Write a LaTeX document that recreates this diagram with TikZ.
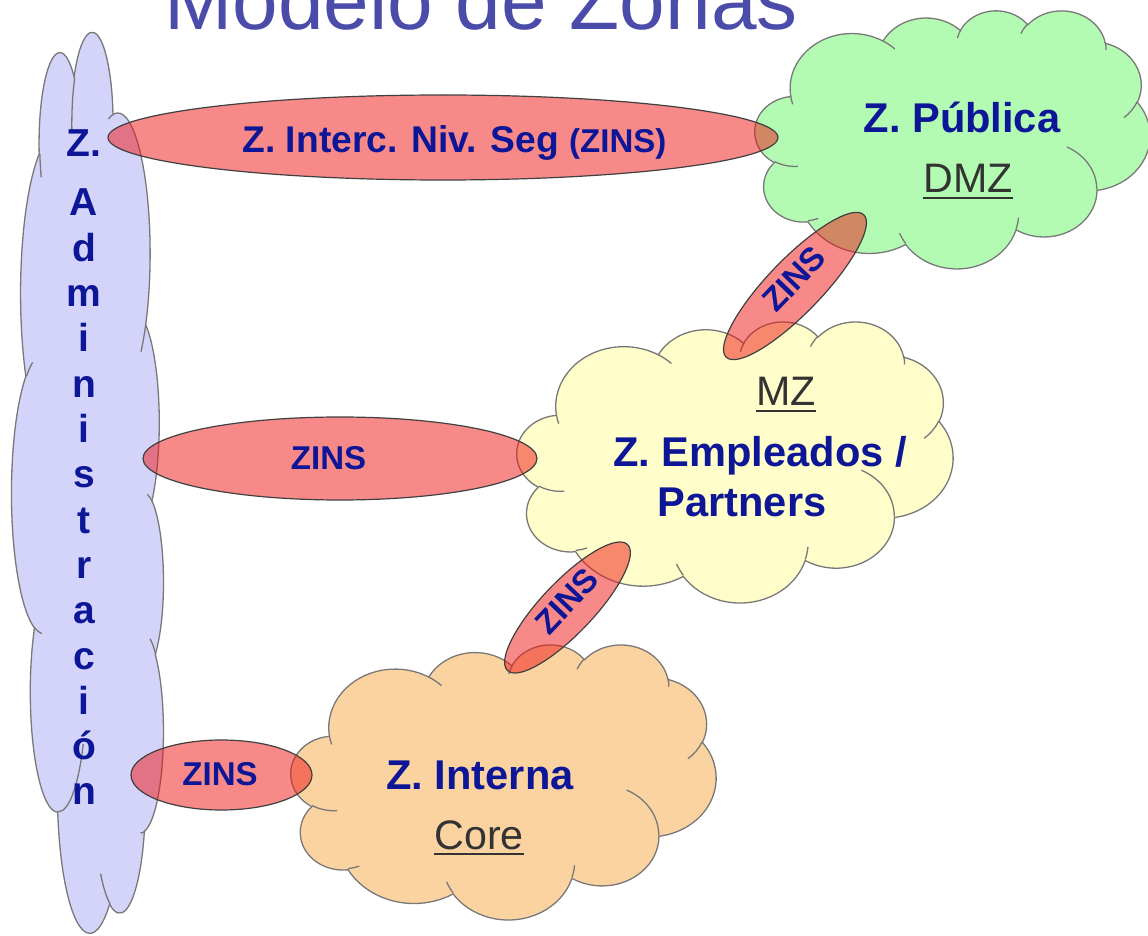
\documentclass[tikz,border=0pt]{standalone}
\usepackage{fontspec}
\setmainfont{Liberation Sans}
\usetikzlibrary{shapes.geometric}
\definecolor{zblue}{RGB}{12,22,150}
\definecolor{tblue}{RGB}{75,75,170}
\definecolor{zgray}{RGB}{51,51,51}
\definecolor{cline}{RGB}{120,120,120}
\definecolor{zred}{RGB}{240,20,20}
\definecolor{lav}{RGB}{212,212,250}
\definecolor{zgreen}{RGB}{179,251,179}
\definecolor{zyellow}{RGB}{255,253,201}
\definecolor{zorange}{RGB}{251,211,161}
\newcommand\fz[1]{\fontsize{#1}{#1}\selectfont}
% --- cloud outline (preset cloud geometry, path box 432 x 432) ---
\gdef\cpath{}
\newcommand\addmove[2]{\xdef\cpath{\cpath (#1,#2)}}
\newcommand\addarc[4]{%
  \pgfmathsetmacro\tmpS{atan2((#1)*sin(#3),(#2)*cos(#3))}%
  \pgfmathsetmacro\tmpE{atan2((#1)*sin((#3)+(#4)),(#2)*cos((#3)+(#4)))}%
  \pgfmathsetmacro\tmpD{mod(\tmpE-\tmpS+720,360)}%
  \xdef\cpath{\cpath arc[x radius=#1, y radius=#2, start angle=\tmpS, delta angle=\tmpD]}}
\addmove{39}{143.7}
\addarc{67.53}{91.90}{-190.48748}{123.78053}
\addarc{53.33}{72.67}{-144.10238}{89.94523}
\addarc{43.65}{59.45}{-145.80792}{99.72302}
\addarc{48.57}{65.95}{-130.98607}{117.24173}
\addarc{53.33}{72.73}{-78.70888}{109.02692}
\addarc{67.75}{92.20}{-46.26725}{130.269}
\addarc{57.85}{78.67}{0.62502}{114.03333}
\addarc{67.52}{92.15}{22.4516}{115.17255}
\addarc{77.20}{105.43}{66.24263}{75.71102}
\addarc{43.60}{59.18}{-274.94208}{146.73557}
\addarc{43.45}{59.45}{-246.8285}{152.51885}
\xdef\cpath{\cpath -- cycle}
\global\let\cloudmain\cpath
\gdef\cpath{}
\addmove{46.93}{261.77}\addarc{43.45}{59.45}{86.742}{26.4295}
\addmove{69.28}{348.99}\addarc{43.60}{59.18}{73.61047}{11.44747}
\addmove{164.78}{390.90}\addarc{67.52}{92.15}{137.62415}{14.0811}
\addmove{288.27}{347.51}\addarc{67.52}{92.15}{6.45327}{15.99835}
\addmove{341.29}{229.54}\addarc{57.85}{78.67}{-70.29235}{70.91737}
\addmove{417.98}{153.54}\addarc{53.33}{72.73}{30.31803}{27.7515}
\addmove{383.24}{54.26}\addarc{48.57}{65.95}{-13.74433}{14.8589}
\addmove{290.78}{39.52}\addarc{48.57}{65.95}{-149.18145}{18.19537}
\addmove{221.41}{47.20}\addarc{43.65}{59.45}{-163.49427}{17.68635}
\addmove{140.00}{51.92}\addarc{67.53}{91.90}{-66.70695}{12.31935}
\addmove{41.27}{157.89}\addarc{67.53}{91.90}{157.65435}{11.85817}
\global\let\cloudinner\cpath
\newcommand\zcloud[2]{%
  \begin{scope}[#1]
    \path[draw=cline, line width=0.65pt, fill=#2] \cloudmain;
    \path[draw=cline, line width=0.65pt] \cloudinner;
  \end{scope}}
\tikzset{
  zins/.style={ellipse, draw=black!75, line width=0.6pt, fill=zred,
    fill opacity=0.5, inner sep=0pt},
  txtb/.style={text=zblue, font=\bfseries\fz{20.8}, inner sep=0pt},
  txtu/.style={text=zgray, font=\fz{20.6}, inner sep=0pt},
  txtz/.style={text=zblue, font=\bfseries\fz{16.5}, inner sep=0pt},
  uline/.style={draw=zgray, line width=1pt}
}
\begin{document}
\begin{tikzpicture}[x=0.5pt, y=-0.5pt]
\useasboundingbox (0,0) rectangle (1148,936);
\clip (0,0) rectangle (1148,936);
% clouds
\zcloud{shift={(164,33)}, rotate=-90, xscale=900/432, yscale=152/432}{lav}
\zcloud{shift={(755,10)}, xscale=395/432, yscale=258/432}{zgreen}
\zcloud{shift={(517,321)}, xscale=436/432, yscale=281/432}{zyellow}
\zcloud{shift={(291,644)}, xscale=425/432, yscale=275/432}{zorange}
% title
\node[anchor=base, text=tblue, font=\fz{41}, inner sep=0pt] (title) at (481,30) {Modelo de Zonas};
% cloud texts
\node[anchor=base, txtb] (pub) at (962,133) {Z. Pública};
\node[anchor=base, txtu] (dmz) at (968,193) {DMZ};
\node[anchor=base, txtu] (mz) at (786,406) {MZ};
\node[anchor=base, txtb] (emp) at (760,467) {Z. Empleados /};
\node[anchor=base, txtb] (par) at (742,517) {Partners};
\node[anchor=base, txtb] (int) at (480,790) {Z. Interna};
\node[anchor=base, txtu] (core) at (479,849) {Core};
\path[uline] ([yshift=-2.6pt]dmz.base west) -- ([yshift=-2.6pt]dmz.base east);
\path[uline] ([yshift=-2.6pt]mz.base west) -- ([yshift=-2.6pt]mz.base east);
\path[uline] ([yshift=-2.6pt]core.base west) -- ([yshift=-2.6pt]core.base east);
% administracion vertical text
\node[anchor=base, txtb, font=\bfseries\fz{19.5}] (adm0) at (84,157) {Z.};
\foreach \ch [count=\i] in {A,d,m,i,n,i,s,t,r,a,c,i,ó,n}
  \node[anchor=base, txtb, font=\bfseries\fz{19.5}] (adm\i) at (84,{216+45.3*(\i-1)}) {\ch};
% ZINS ellipses
\node[zins, minimum width=335pt, minimum height=42.5pt] (e1) at (443,137.5) {};
\node[zins, minimum width=197pt, minimum height=41.5pt] (e2) at (340,458.5) {};
\node[zins, minimum width=90.5pt, minimum height=35pt] (e3) at (221.5,775) {};
\node[zins, minimum width=99pt, minimum height=27pt, rotate=46] (e4) at (795,286) {};
\node[zins, minimum width=87pt, minimum height=26pt, rotate=46.4] (e5) at (567.5,607.5) {};
\node[anchor=base, txtz, font=\bfseries\fz{18.6}] (t1) at (454.5,153) {Z. Interc. Niv. Seg {\fz{16.5}(ZINS)}};
\node[anchor=base, txtz] (t2) at (328.5,470) {ZINS};
\node[anchor=base, txtz] (t3) at (220,785) {ZINS};
\node[txtz, rotate=46] (t4) at (794,279) {ZINS};
\node[txtz, rotate=46.4] (t5) at (567,601) {ZINS};
\end{tikzpicture}
\end{document}
